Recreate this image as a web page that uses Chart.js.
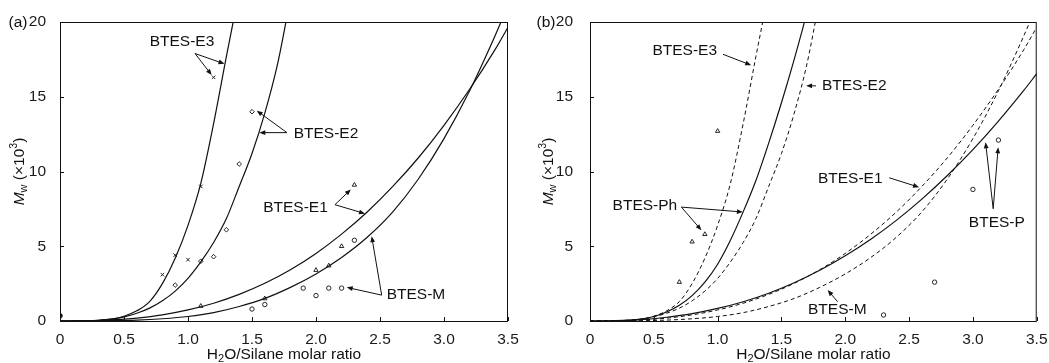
<!DOCTYPE html>
<html>
<head>
<meta charset="utf-8">
<script src="https://cdn.jsdelivr.net/npm/chart.js@4.4.0/dist/chart.umd.min.js"></script>
<style>
  html, body { margin: 0; padding: 0; background: #fff; }
  #wrap { position: relative; width: 1049px; height: 363px; overflow: hidden; }
  canvas { position: absolute; top: 0; }
</style>
</head>
<body>
<div id="wrap">
  <canvas id="chartA" width="524" height="363" style="left:0"></canvas>
  <canvas id="chartB" width="525" height="363" style="left:524px"></canvas>
</div>
<script>
// tick values
const xTicks = [0, 0.5, 1.0, 1.5, 2.0, 2.5, 3.0, 3.5];
const yTicks = [0, 5, 10, 15, 20];

// fitted curves (panel a solid, panel b dashed)
const fitE3X = [0, 0.2, 0.3, 0.4, 0.5, 0.6, 0.7, 0.8, 0.9, 1.0, 1.1, 1.2, 1.3, 1.36];
const fitE3Y = [0, 0.01, 0.04, 0.12, 0.32, 0.68, 1.3, 2.5, 4.2, 6.4, 9.2, 13.2, 17.7, 20.3];
const fitE2X = [0, 0.2, 0.3, 0.4, 0.5, 0.6, 0.7, 0.8, 0.9, 1.0, 1.1, 1.2, 1.3, 1.4, 1.5, 1.6, 1.7, 1.77];
const fitE2Y = [0, 0.01, 0.05, 0.13, 0.28, 0.52, 0.86, 1.35, 2.0, 2.85, 3.95, 5.25, 6.85, 9.0, 11.2, 13.9, 17.2, 20.2];
const fitE1X = [0, 0.2, 0.3, 0.4, 0.5, 0.6, 0.8, 1.0, 1.2, 1.4, 1.6, 1.8, 2.0, 2.2, 2.4, 2.6, 2.8, 3.0, 3.2, 3.4, 3.5];
const fitE1Y = [0, 0.01, 0.03, 0.07, 0.12, 0.19, 0.41, 0.74, 1.19, 1.78, 2.52, 3.43, 4.52, 5.81, 7.29, 9.0, 10.92, 13.09, 15.5, 18.17, 19.65];
const fitMX = [0, 0.2, 0.4, 0.6, 0.8, 1.0, 1.2, 1.4, 1.6, 1.8, 2.0, 2.2, 2.4, 2.6, 2.8, 3.0, 3.2, 3.4, 3.45];
const fitMY = [0, 0.005, 0.02, 0.06, 0.15, 0.3, 0.56, 0.97, 1.51, 2.25, 3.15, 4.25, 5.6, 7.3, 9.5, 12.2, 15.4, 19.1, 20.1];
// panel b solid curves
const fitPhX = [0, 0.2, 0.3, 0.4, 0.5, 0.6, 0.7, 0.8, 0.9, 1.0, 1.1, 1.2, 1.3, 1.4, 1.5, 1.6, 1.69];
const fitPhY = [0, 0.01, 0.04, 0.12, 0.3, 0.6, 1.05, 1.7, 2.6, 3.8, 5.4, 7.3, 9.4, 11.9, 14.6, 17.5, 20.3];
const fitPX = [0, 0.2, 0.4, 0.6, 0.8, 1.0, 1.2, 1.4, 1.6, 1.8, 2.0, 2.2, 2.4, 2.6, 2.8, 3.0, 3.2, 3.4, 3.5];
const fitPY = [0, 0.02, 0.09, 0.25, 0.49, 0.84, 1.29, 1.86, 2.56, 3.39, 4.36, 5.47, 6.73, 8.15, 9.73, 11.46, 13.37, 15.44, 16.54];

// measured points
const e3PtsX = [0.8, 0.9, 1.0, 1.1, 1.2];
const e3PtsY = [3.1, 4.4, 4.1, 9.0, 16.3];
const e2PtsX = [0.9, 1.1, 1.2, 1.3, 1.4, 1.5];
const e2PtsY = [2.4, 4.0, 4.3, 6.1, 10.5, 14.0];
const e1PtsX = [1.1, 1.6, 2.0, 2.1, 2.2, 2.3];
const e1PtsY = [1.0, 1.5, 3.4, 3.7, 5.0, 9.1];
const mPtsX = [1.5, 1.6, 1.9, 2.0, 2.1, 2.2, 2.3];
const mPtsY = [0.8, 1.1, 2.2, 1.7, 2.2, 2.2, 5.4];
const zeroPtX = [0];
const zeroPtY = [0.35];
const phPtsX = [0.7, 0.8, 0.9, 1.0];
const phPtsY = [2.6, 5.3, 5.8, 12.7];
const pPtsX = [2.3, 2.7, 3.0, 3.2];
const pPtsY = [0.4, 2.6, 8.8, 12.1];

// annotations (data coordinates)
const labelsA = [
  { text: 'BTES-E3', x: 0.953, y: 18.67 },
  { text: 'BTES-E2', x: 2.078, y: 12.53 },
  { text: 'BTES-E1', x: 1.84, y: 7.6 },
  { text: 'BTES-M', x: 2.781, y: 1.73 }
];
const arrowsA = [
  [1.055, 17.89, 1.285, 17.2], [1.055, 17.89, 1.185, 16.45],
  [1.773, 12.6, 1.537, 14.07], [1.773, 12.6, 1.557, 12.6],
  [2.148, 7.78, 2.272, 8.8], [2.148, 7.78, 2.383, 7.18],
  [2.513, 1.73, 2.24, 2.25], [2.513, 1.73, 2.435, 5.67]
];
const labelsB = [
  { text: 'BTES-E3', x: 0.742, y: 18.07 },
  { text: 'BTES-E2', x: 2.07, y: 15.73 },
  { text: 'BTES-E1', x: 2.039, y: 9.53 },
  { text: 'BTES-M', x: 1.9375, y: 0.73 },
  { text: 'BTES-Ph', x: 0.43, y: 7.73 },
  { text: 'BTES-P', x: 3.1875, y: 6.6 }
];
const arrowsB = [
  [1.042, 17.84, 1.263, 17.11],
  [1.771, 15.73, 1.693, 15.73],
  [2.344, 9.58, 2.578, 8.95],
  [1.94, 1.29, 1.862, 2.07],
  [0.716, 7.62, 1.198, 7.29], [0.716, 7.62, 0.873, 6.07],
  [3.159, 7.51, 3.099, 11.95], [3.159, 7.51, 3.198, 11.62]
];

const FONT = '"Liberation Sans", Arial, Helvetica, sans-serif';
const INK = '#111';
Chart.defaults.font.family = FONT;
Chart.defaults.color = '#1a1a1a';

const xy = (xs, ys) => xs.map((x, i) => ({ x: x, y: ys[i] }));

function curve(xs, ys, dashed) {
  return {
    data: xy(xs, ys), showLine: true, borderColor: INK,
    borderWidth: dashed ? 1 : 1.2, borderDash: dashed ? [4, 3] : [],
    pointRadius: 0, cubicInterpolationMode: 'monotone', fill: false
  };
}
function marks(xs, ys, style, r, filled) {
  return {
    data: xy(xs, ys), showLine: false, pointStyle: style, pointRadius: r,
    borderColor: INK, pointBorderColor: INK, pointBorderWidth: 0.9,
    pointBackgroundColor: filled ? INK : 'rgba(0,0,0,0)'
  };
}

function arrow(ctx, x1, y1, x2, y2) {
  const ang = Math.atan2(y2 - y1, x2 - x1);
  const L = 6, W = 2.4;
  ctx.beginPath();
  ctx.moveTo(x1, y1);
  ctx.lineTo(x2 - Math.cos(ang) * L * 0.8, y2 - Math.sin(ang) * L * 0.8);
  ctx.stroke();
  ctx.beginPath();
  ctx.moveTo(x2, y2);
  ctx.lineTo(x2 - Math.cos(ang) * L - Math.sin(ang) * W, y2 - Math.sin(ang) * L + Math.cos(ang) * W);
  ctx.lineTo(x2 - Math.cos(ang) * L + Math.sin(ang) * W, y2 - Math.sin(ang) * L - Math.cos(ang) * W);
  ctx.closePath();
  ctx.fill();
}

// draw a run of text pieces centred on 0, with offsets for sub/superscripts
function drawRuns(ctx, parts) {
  let total = 0;
  parts.forEach(p => { ctx.font = p.f; p.w = ctx.measureText(p.t).width; total += p.w; });
  let cx = -total / 2;
  parts.forEach(p => { ctx.font = p.f; ctx.fillText(p.t, cx, p.dy); cx += p.w; });
}

const decor = {
  id: 'decor',
  afterDraw(chart, args, o) {
    const { ctx, chartArea: a, scales: { x, y } } = chart;
    ctx.save();
    ctx.strokeStyle = INK;
    ctx.fillStyle = INK;
    ctx.lineWidth = 1;
    // frame
    ctx.strokeRect(a.left + 0.5, a.top + 0.5, a.right - a.left - 1, a.bottom - a.top);
    // inward ticks
    ctx.beginPath();
    xTicks.forEach(v => {
      const p = Math.round(x.getPixelForValue(v)) + 0.5;
      ctx.moveTo(p, a.bottom); ctx.lineTo(p, a.bottom - 4);
    });
    yTicks.forEach(v => {
      const p = Math.round(y.getPixelForValue(v)) + 0.5;
      ctx.moveTo(a.left, p); ctx.lineTo(a.left + 4, p);
    });
    ctx.stroke();

    // arrows
    ctx.lineWidth = 1;
    o.arrows.forEach(r => {
      arrow(ctx, x.getPixelForValue(r[0]), y.getPixelForValue(r[1]),
        x.getPixelForValue(r[2]), y.getPixelForValue(r[3]));
    });
    // labels
    ctx.font = '15.5px ' + FONT;
    ctx.textAlign = 'center';
    ctx.textBaseline = 'middle';
    o.labels.forEach(l => {
      ctx.fillText(l.text, x.getPixelForValue(l.x), y.getPixelForValue(l.y));
    });

    // panel tag
    ctx.font = '15.5px ' + FONT;
    ctx.fillText(o.tag, a.left + o.tagDx, a.top + 1);

    // x title
    ctx.textAlign = 'left';
    ctx.save();
    ctx.translate((a.left + a.right) / 2, a.bottom + 34);
    drawRuns(ctx, [
      { t: 'H', f: '15.5px ' + FONT, dy: 0 },
      { t: '2', f: '11px ' + FONT, dy: 4 },
      { t: 'O/Silane molar ratio', f: '15.5px ' + FONT, dy: 0 }
    ]);
    ctx.restore();

    // y title
    ctx.save();
    ctx.translate(a.left + o.yTitleDx, (a.top + a.bottom) / 2);
    ctx.rotate(-Math.PI / 2);
    drawRuns(ctx, [
      { t: 'M', f: 'italic 15.5px ' + FONT, dy: 0 },
      { t: 'w', f: '11px ' + FONT, dy: 4 },
      { t: ' (\u00d710', f: '15.5px ' + FONT, dy: 0 },
      { t: '3', f: '10.5px ' + FONT, dy: -6 },
      { t: ')', f: '15.5px ' + FONT, dy: 0 }
    ]);
    ctx.restore();
    ctx.restore();
  }
};

function makeOptions(yWidth, padRight, yPad, deco) {
  return {
    responsive: false,
    animation: false,
    layout: { padding: { top: 22, right: padRight, bottom: 0, left: 0 } },
    plugins: { legend: { display: false }, tooltip: { enabled: false }, decor: deco },
    scales: {
      x: {
        type: 'linear', min: 0, max: 3.5,
        afterBuildTicks: s => { s.ticks = xTicks.map(v => ({ value: v })); },
        grid: { display: false },
        border: { display: false },
        ticks: { padding: 1.5, font: { size: 15.5 }, maxRotation: 0, autoSkip: false,
          callback: v => (v === 0 ? '0' : v.toFixed(1)) },
        afterFit: s => { s.height = 42; }
      },
      y: {
        type: 'linear', min: 0, max: 20,
        afterBuildTicks: s => { s.ticks = yTicks.map(v => ({ value: v })); },
        grid: { display: false },
        border: { display: false },
        ticks: { padding: yPad, font: { size: 15.5 } },
        afterFit: s => { s.width = yWidth; }
      }
    }
  };
}

new Chart(document.getElementById('chartA'), {
  type: 'scatter',
  data: {
    datasets: [
      curve(fitE3X, fitE3Y, false),
      curve(fitE2X, fitE2Y, false),
      curve(fitE1X, fitE1Y, false),
      curve(fitMX, fitMY, false),
      marks(e3PtsX, e3PtsY, 'crossRot', 2.5, false),
      marks(e2PtsX, e2PtsY, 'rectRot', 2.3, false),
      marks(e1PtsX, e1PtsY, 'triangle', 2.5, false),
      marks(mPtsX, mPtsY, 'circle', 2.2, false),
      marks(zeroPtX, zeroPtY, 'circle', 2.3, true)
    ]
  },
  options: makeOptions(60, 16, 6, { labels: labelsA, arrows: arrowsA, tag: '(a)', tagDx: -42, yTitleDx: -40 }),
  plugins: [decor]
});

new Chart(document.getElementById('chartB'), {
  type: 'scatter',
  data: {
    datasets: [
      curve(fitE3X, fitE3Y, true),
      curve(fitE2X, fitE2Y, true),
      curve(fitE1X, fitE1Y, true),
      curve(fitMX, fitMY, true),
      curve(fitPhX, fitPhY, false),
      curve(fitPX, fitPY, false),
      marks(phPtsX, phPtsY, 'triangle', 2.5, false),
      marks(pPtsX, pPtsY, 'circle', 2.2, false)
    ]
  },
  options: makeOptions(66, 11, 9, { labels: labelsB, arrows: arrowsB, tag: '(b)', tagDx: -44, yTitleDx: -41 }),
  plugins: [decor]
});
</script>
</body>
</html>
